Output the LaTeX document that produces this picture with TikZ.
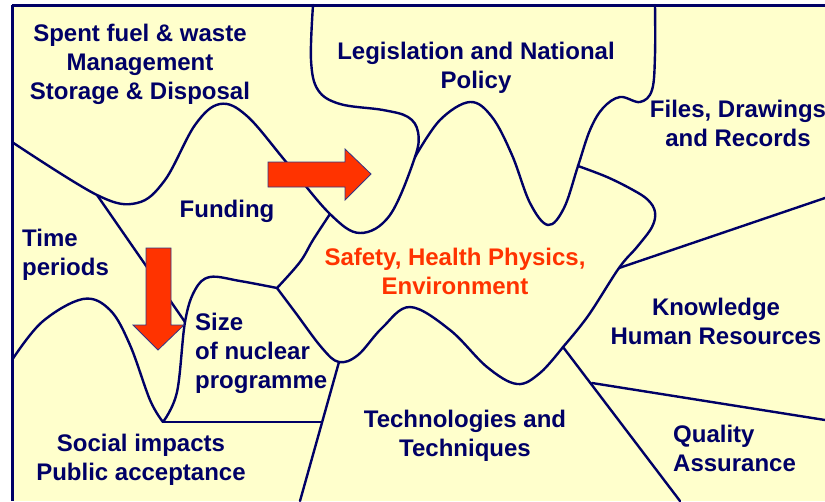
\documentclass[tikz,border=0pt]{standalone}
\usepackage{fontspec}
\setmainfont{Liberation Sans}
\definecolor{navy}{HTML}{000066}
\definecolor{paleyellow}{HTML}{FFFFCC}
\definecolor{safetyred}{HTML}{FF3300}
\begin{document}
\begin{tikzpicture}[x=1pt,y=-1pt]
\tikzstyle{boundary}=[draw=navy, line width=2.4pt, line join=round, line cap=round]
\tikzstyle{rim}=[draw=navy, line width=3pt]
\tikzstyle{area}=[text=navy, font=\fontsize{24}{29}\selectfont\bfseries, inner sep=0pt, align=center]
\tikzstyle{redarrow}=[fill=safetyred, draw=navy!80, line width=0.8pt]

\useasboundingbox (0,0) rectangle (825,501);
\fill[paleyellow] (12,5) rectangle (825,501);

% junctions
\coordinate (jA) at (97,195);
\coordinate (jB) at (185,322);
\coordinate (jC) at (277,288);
\coordinate (jD) at (330,214);
\coordinate (jE) at (415,157);
\coordinate (jF) at (578,166);
\coordinate (jG) at (619,268);
\coordinate (jH) at (563,347);
\coordinate (jI) at (592,383);
\coordinate (jJ) at (163,422);
\coordinate (jK) at (321,422);
\coordinate (jL) at (339,362);
\coordinate (kr) at (825,198);
\coordinate (qr) at (825,420);
\coordinate (qb) at (680,501);
\coordinate (tb) at (300,501);

% spent fuel / legislation
\draw[boundary] plot[smooth, tension=0.6] coordinates {(12,142) (jA) (137,203) (165,180) (195,125) (220,104) (247,116) (287,163) (jD) (360,233) (390,215) (jE) (418,132) (408,117) (383,110) (340,104) (318,90) (311,60) (313,5)};
\draw[boundary] plot[smooth, tension=0.6] coordinates {(jE) (440,120) (470,102) (492,117) (512,155) (530,203) (548,225) (564,208) (jF) (590,130) (603,108) (620,97) (640,102) (652,90) (655,55) (655,5)};
% size of nuclear programme
\draw[boundary] plot[smooth, tension=0.6] coordinates {(jJ) (177,392) (jB) (195,290) (210,277) (240,281) (jC)};
\draw[boundary] plot[smooth, tension=0.6] coordinates {(12,360) (42,322) (83,299) (110,310) (130,345) (150,400) (jJ)};
\draw[boundary] plot[smooth, tension=0.6] coordinates {(jD) (313,240) (300,262) (jC)};
% safety, health physics
\draw[boundary] plot[smooth, tension=0.6] coordinates {(jC) (295,312) (322,348) (jL) (358,355) (382,328) (410,307) (450,330) (487,367) (517,384) (540,373) (jH)};
\draw[boundary] plot[smooth, tension=0.6] coordinates {(jH) (588,316) (jG) (637,247) (652,227) (655,212) (648,200) (633,190) (607,177) (jF)};

\foreach \a/\b in {jA/jB, jJ/jK, jL/tb, jG/kr, jH/qb, jI/qr}
\draw[boundary] (\a) -- (\b);

\draw[rim] (12,5) -- (825,5);
\draw[rim] (12,5) -- (12,501);

% arrows
\draw[redarrow] (268,162) -- (345,162) -- (345,149) -- (371,174) -- (345,200) -- (345,187) -- (268,187) -- cycle;
\draw[redarrow] (146,248) -- (171,248) -- (171,325) -- (184,325) -- (158,350) -- (133,325) -- (146,325) -- cycle;

% labels
\node[area] (spent) at (140,64) {Spent fuel \& waste\\Management\\Storage \& Disposal};
\node[area] (legis) at (476,68) {Legislation and National\\Policy};
\node[area] (files) at (738,123) {Files, Drawings\\and Records};
\node[area] (funding) at (227,211) {Funding};
\node[area, align=left, anchor=west] (time) at (22,255) {Time\\periods};
\node[area, align=left, anchor=west] (size) at (195,353) {Size\\of nuclear\\programme};
\node[area] (social) at (141,460) {Social impacts\\Public acceptance};
\node[area, text=safetyred] (safety) at (455,271) {Safety, Health Physics,\\Environment};
\node[area] (tech) at (465,436) {Technologies and\\Techniques};
\node[area] (know) at (716,321) {Knowledge\\Human Resources};
\node[area, align=left, anchor=west] (quality) at (673,448) {Quality\\Assurance};
\end{tikzpicture}
\end{document}
